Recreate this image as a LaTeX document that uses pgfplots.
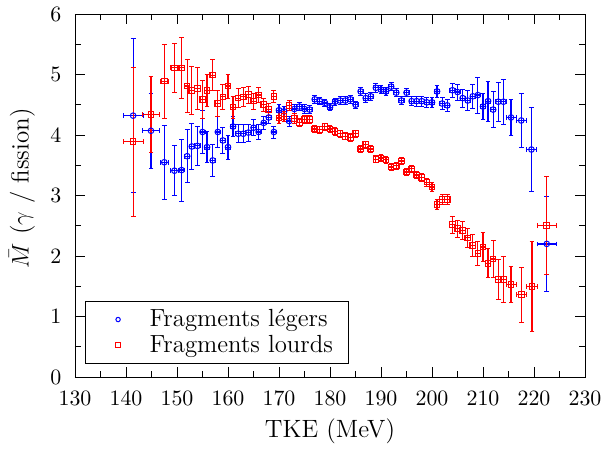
\documentclass[border=0pt]{standalone}
\usepackage{pgfplots}
\pgfplotsset{compat=1.18}
\usepackage{pgfplotstable}
\pgfplotstableread{
x y ex ey
141.4 4.32 2.0 1.27
144.9 4.07 1.6 0.62
147.5 3.55 0.8 0.61
149.5 3.41 0.7 0.41
150.9 3.42 0.5 0.51
152.0 3.65 0.5 0.44
152.9 3.81 0.5 0.38
154.0 3.82 0.5 0.33
155.0 4.05 0.5 0.35
155.9 3.80 0.5 0.26
157.0 3.58 0.5 0.26
158.0 4.05 0.5 0.25
159.0 3.91 0.5 0.22
160.0 3.80 0.5 0.20
161.0 4.14 0.5 0.17
162.0 4.02 0.5 0.15
163.0 4.02 0.5 0.15
164.0 4.04 0.5 0.14
165.0 4.12 0.5 0.13
166.0 4.05 0.5 0.12
167.0 4.20 0.5 0.11
168.0 4.29 0.5 0.10
169.0 4.05 0.5 0.10
170.0 4.41 0.5 0.09
171.0 4.39 0.5 0.08
172.0 4.23 0.5 0.08
173.0 4.43 0.5 0.08
174.0 4.47 0.5 0.07
175.0 4.43 0.5 0.07
176.0 4.42 0.5 0.07
177.0 4.59 0.5 0.06
178.0 4.56 0.5 0.06
179.0 4.53 0.5 0.06
180.0 4.46 0.5 0.06
181.0 4.55 0.5 0.06
182.0 4.57 0.5 0.06
183.0 4.57 0.5 0.06
184.0 4.59 0.5 0.06
185.0 4.50 0.5 0.06
186.0 4.72 0.5 0.07
187.0 4.61 0.5 0.07
188.0 4.64 0.5 0.07
189.0 4.78 0.5 0.07
190.0 4.75 0.5 0.07
191.0 4.72 0.5 0.07
192.0 4.80 0.5 0.07
193.0 4.70 0.5 0.07
194.0 4.57 0.5 0.07
195.0 4.70 0.5 0.07
196.0 4.56 0.5 0.07
197.0 4.56 0.5 0.08
198.0 4.56 0.5 0.08
199.0 4.54 0.5 0.08
200.0 4.54 0.5 0.08
201.0 4.72 0.5 0.10
202.0 4.52 0.5 0.10
203.0 4.49 0.5 0.10
204.0 4.74 0.5 0.12
205.0 4.71 0.5 0.13
206.0 4.61 0.5 0.15
207.0 4.57 0.5 0.17
208.0 4.64 0.5 0.20
209.0 4.66 0.5 0.30
210.0 4.47 0.5 0.21
211.0 4.56 0.5 0.33
212.0 4.42 0.5 0.30
213.0 4.55 0.5 0.32
214.0 4.55 0.5 0.37
215.5 4.29 1.0 0.30
217.5 4.24 1.0 0.44
219.5 3.76 1.0 0.70
222.5 2.20 1.8 0.79
}\legers
\pgfplotstableread{
x y ex ey
141.4 3.89 2.0 1.23
144.9 4.34 1.6 0.63
147.5 4.89 0.8 0.61
149.5 5.11 0.7 0.41
150.9 5.11 0.5 0.50
152.0 4.81 0.5 0.44
152.9 4.74 0.5 0.40
154.0 4.77 0.5 0.35
155.0 4.59 0.5 0.31
155.9 4.74 0.5 0.26
157.0 4.99 0.5 0.26
158.0 4.52 0.5 0.21
159.0 4.63 0.5 0.20
160.0 4.81 0.5 0.20
161.0 4.46 0.5 0.18
162.0 4.61 0.5 0.16
163.0 4.63 0.5 0.15
164.0 4.67 0.5 0.14
165.0 4.56 0.5 0.13
166.0 4.66 0.5 0.12
167.0 4.50 0.5 0.11
168.0 4.42 0.5 0.10
169.0 4.64 0.5 0.10
170.0 4.28 0.5 0.09
171.0 4.31 0.5 0.08
172.0 4.49 0.5 0.08
173.0 4.27 0.5 0.08
174.0 4.21 0.5 0.07
175.0 4.26 0.5 0.07
176.0 4.26 0.5 0.07
177.0 4.10 0.5 0.06
178.0 4.09 0.5 0.06
179.0 4.14 0.5 0.06
180.0 4.10 0.5 0.06
181.0 4.06 0.5 0.06
182.0 4.02 0.5 0.06
183.0 3.98 0.5 0.06
184.0 3.96 0.5 0.06
185.0 4.02 0.5 0.06
186.0 3.77 0.5 0.06
187.0 3.84 0.5 0.06
188.0 3.77 0.5 0.06
189.0 3.60 0.5 0.06
190.0 3.62 0.5 0.06
191.0 3.59 0.5 0.06
192.0 3.47 0.5 0.06
193.0 3.49 0.5 0.06
194.0 3.57 0.5 0.06
195.0 3.39 0.5 0.06
196.0 3.44 0.5 0.06
197.0 3.34 0.5 0.06
198.0 3.30 0.5 0.06
199.0 3.22 0.5 0.07
200.0 3.14 0.5 0.07
201.0 2.85 0.5 0.08
202.0 2.93 0.5 0.08
203.0 2.93 0.5 0.08
204.0 2.52 0.5 0.14
205.0 2.45 0.5 0.14
206.0 2.42 0.5 0.15
207.0 2.30 0.5 0.15
208.0 2.17 0.5 0.18
209.0 2.04 0.5 0.20
210.0 2.15 0.5 0.24
211.0 1.88 0.5 0.24
212.0 1.95 0.5 0.30
213.0 1.61 0.5 0.33
214.0 1.61 0.5 0.38
215.5 1.53 1.0 0.30
217.6 1.36 1.0 0.45
219.6 1.50 1.0 0.74
222.5 2.50 1.8 0.81
}\lourds
\begin{document}
\begin{tikzpicture}
\begin{axis}[
  at={(0pt,0pt)}, anchor=south west,
  scale only axis,
  width=255pt, height=181.5pt,
  xmin=130, xmax=230, ymin=0, ymax=6,
  xtick={130,140,...,230},
  ytick={0,1,...,6},
  minor x tick num=1,
  minor y tick num=1,
  tick style={black, thin},
  major tick length=5pt,
  minor tick length=3pt,
  axis line style={thin},
  xlabel={TKE (MeV)},
  ylabel={$\bar{M}$ ($\gamma$ / fission)},
  label style={font=\fontsize{12.5}{15}\selectfont},
  xlabel style={at={(axis description cs:0.5,-0.150)}, anchor=center},
  ylabel style={at={(axis description cs:-0.104,0.52)}, anchor=center},
  ticklabel style={font=\fontsize{11.3}{13}\selectfont},
  xticklabel style={yshift=-3.8pt},
  yticklabel style={xshift=-3.3pt},
  legend style={at={(axis cs:132,0.22)}, anchor=south west, font=\fontsize{12.4}{14}\selectfont,
    draw=black, thin, inner xsep=5.5pt, inner ysep=2pt, row sep=-1.3pt},
  legend cell align=left,
  legend image code/.code={\path (0pt,0pt) (24pt,0pt); \draw[#1, mark size=1.1pt] plot coordinates {(10.5pt,0pt)};},
]
\addplot[only marks, blue, mark=o, mark size=1.4pt, line width=0.5pt,
  error bars/.cd, x dir=both, x explicit, y dir=both, y explicit,
  error mark options={rotate=90, mark size=1.2pt, blue}, error bar style={line width=0.6pt, blue}]
  table[x=x, y=y, x error=ex, y error=ey] {\legers};
\addlegendentry{Fragments légers}
\addplot[only marks, red, mark=square, mark size=1.4pt, line width=0.5pt,
  error bars/.cd, x dir=both, x explicit, y dir=both, y explicit,
  error mark options={rotate=90, mark size=1.2pt, red}, error bar style={line width=0.6pt, red}]
  table[x=x, y=y, x error=ex, y error=ey] {\lourds};
\addlegendentry{Fragments lourds}
\end{axis}
\pgfresetboundingbox
\path[use as bounding box] (-37.5pt,-36.5pt) rectangle (263.5pt,188.5pt);
\end{tikzpicture}
\end{document}
